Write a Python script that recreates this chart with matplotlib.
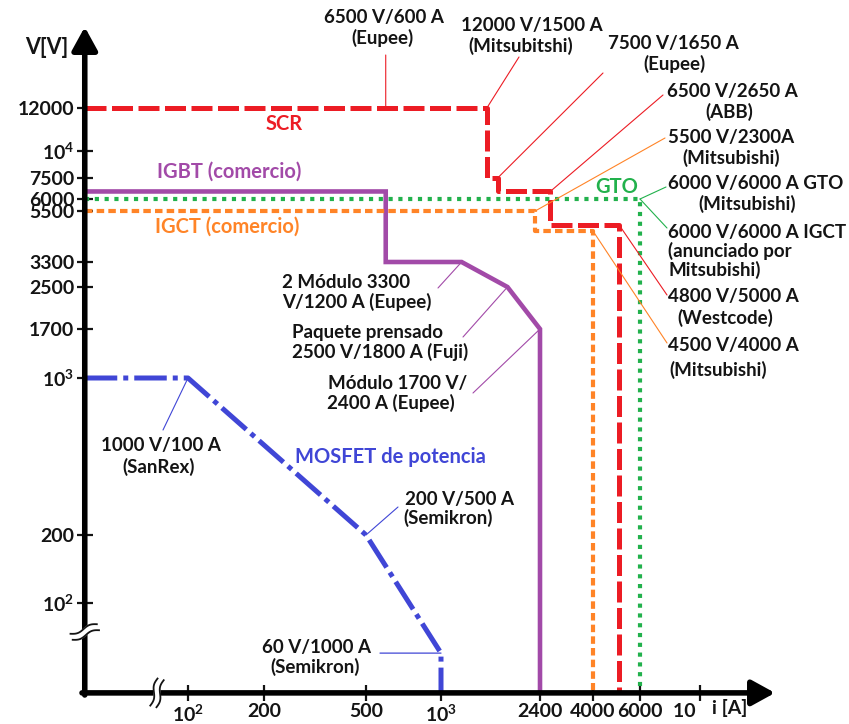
"""
Voltage / current ratings of power semiconductor families (schematic V-I map).

The axes are log-like but not strictly logarithmic (12000 V sits higher than a
true log scale would put it), so both axes use a piecewise-log FuncScale built
from the tick anchors.
"""

import matplotlib

matplotlib.use("Agg")
import matplotlib.pyplot as plt  # noqa: E402
import matplotlib.transforms as mtransforms  # noqa: E402
import numpy as np  # noqa: E402
from matplotlib.ticker import NullLocator  # noqa: E402

W, H = 849, 724

# --- axis ticks ---------------------------------------------------------------
X_TICKS = [100, 200, 500, 1000, 2400, 4000, 6000, 10000]
X_TICK_LABELS = [r"$10^{2}$", "200", "500", r"$10^{3}$", "2400", "4000", "6000", "10 "]
Y_TICKS = [100, 200, 1000, 1700, 2500, 3300, 5500, 6000, 7500, 10000, 12000]
Y_TICK_LABELS = [r"$10^{2}$", "200", r"$10^{3}$", "1700", "2500", "3300",
                 "5500", "6000", "7500", r"$10^{4}$", "12000"]

# axis origin (A, V)
I_MIN = 39
V_MIN = 40

# --- device limit curves (current A, voltage V) --------------------------------
SCR_I = [I_MIN, 1500, 1500, 1650, 1650, 2650, 2650, 5000, 5000]
SCR_V = [12000, 12000, 7500, 7500, 6500, 6500, 4800, 4800, V_MIN]

IGBT_I = [I_MIN, 600, 600, 1200, 1800, 2400, 2400]
IGBT_V = [6500, 6500, 3300, 3300, 2500, 1700, V_MIN]

IGCT_I = [I_MIN, 2300, 2300, 4000, 4000]
IGCT_V = [5500, 5500, 4500, 4500, V_MIN]

GTO_I = [I_MIN, 6000, 6000]
GTO_V = [6000, 6000, V_MIN]

MOSFET_I = [I_MIN, 100, 500, 1000, 1000]
MOSFET_V = [1000, 1000, 200, 60, V_MIN]

RED = "#ec1c24"
PURPLE = "#a24aa8"
ORANGE = "#ff8427"
GREEN = "#22b14c"
BLUE = "#4046d6"
INK = "#141414"

# tick anchors on the picture (px from left / px from bottom)
X_ANCHOR = [188, 264, 366, 441, 540, 593, 640, 700]
Y_ANCHOR = [H - p for p in [603, 535, 378, 329, 287, 262, 211, 199, 178, 151, 108]]


def _lin(x, xp, fp):
    """np.interp with linear extrapolation at both ends."""
    x = np.asarray(x, dtype=float)
    y = np.interp(x, xp, fp)
    y = np.where(x < xp[0], fp[0] + (x - xp[0]) * (fp[1] - fp[0]) / (xp[1] - xp[0]), y)
    y = np.where(x > xp[-1], fp[-1] + (x - xp[-1]) * (fp[-1] - fp[-2]) / (xp[-1] - xp[-2]), y)
    return y


def piecewise_log(values, anchors):
    lv = np.log10(np.asarray(values, dtype=float))
    pos = np.asarray(anchors, dtype=float)

    def forward(v):
        return _lin(np.log10(np.clip(np.asarray(v, dtype=float), 1e-9, None)), lv, pos)

    def inverse(p):
        return 10 ** _lin(p, pos, lv)

    return forward, inverse


def fig_xy(x, y):
    """Picture pixel (from top-left) -> figure fraction."""
    return x / W, 1 - y / H


def break_mark(ax, fig, anchor, angle):
    """Two wavy strokes with a white gap, drawn around a data anchor (px units)."""
    u = np.linspace(-14, 14, 40)
    wave = 1.8 * np.sin(np.pi * u / 14)
    a = np.deg2rad(angle)
    trans = fig.dpi_scale_trans + mtransforms.ScaledTranslation(*anchor, ax.transData)
    curves = []
    for off in (3.2, -3.2):
        v = wave + off
        x = (u * np.cos(a) - v * np.sin(a)) / 100
        y = (u * np.sin(a) + v * np.cos(a)) / 100
        curves.append((x, y))
    px = np.concatenate([curves[0][0], curves[1][0][::-1]])
    py = np.concatenate([curves[0][1], curves[1][1][::-1]])
    ax.fill(px, py, color="white", transform=trans, zorder=11, clip_on=False)
    for x, y in curves:
        ax.plot(x, y, color=INK, lw=1.3, transform=trans, zorder=12, clip_on=False)


def main() -> None:
    plt.rcParams["font.family"] = ["Lato", "DejaVu Sans"]
    plt.rcParams["font.weight"] = "bold"
    plt.rcParams["mathtext.fontset"] = "custom"
    plt.rcParams["mathtext.rm"] = "Lato:bold"
    plt.rcParams["mathtext.bf"] = "Lato:bold"
    plt.rcParams["mathtext.default"] = "bf"

    fig = plt.figure(figsize=(W / 100, H / 100), dpi=100)
    ax = fig.add_axes([0, 0, 1, 1])
    fx, ix = piecewise_log(X_TICKS, X_ANCHOR)
    fy, iy = piecewise_log(Y_TICKS, Y_ANCHOR)
    ax.set_xscale("function", functions=(fx, ix))
    ax.set_yscale("function", functions=(fy, iy))
    ax.set_xlim(float(ix(0.0)), float(ix(W)))
    ax.set_ylim(float(iy(0.0)), float(iy(H)))

    for side in ("top", "right"):
        ax.spines[side].set_visible(False)
    ax.spines["left"].set_position(("data", I_MIN))
    ax.spines["bottom"].set_position(("data", V_MIN))
    ax.spines["left"].set_visible(False)
    ax.spines["bottom"].set_visible(False)

    ax.set_xticks(X_TICKS, X_TICK_LABELS)
    ax.set_yticks(Y_TICKS, Y_TICK_LABELS)
    ax.xaxis.set_minor_locator(NullLocator())
    ax.yaxis.set_minor_locator(NullLocator())
    ax.tick_params(direction="inout", length=11, width=1.6, labelsize=14,
                   pad=2, color=INK, labelcolor=INK)
    for t in ax.get_xticklabels() + ax.get_yticklabels():
        t.set_zorder(12)
    # the last current label sits left of its tick, clear of "i [A]"
    ax.get_xticklabels()[-1].set_horizontalalignment("right")

    # axis arrows
    head = dict(arrowstyle="-|>,head_length=1.0,head_width=0.55", mutation_scale=14,
                color="black", lw=4, shrinkA=0, shrinkB=0)
    ax.annotate("", xy=(775 / W, V_MIN), xycoords=("figure fraction", "data"),
                xytext=(82 / W, V_MIN), textcoords=("figure fraction", "data"),
                arrowprops=head, zorder=10)
    ax.annotate("", xy=(I_MIN, 1 - 27 / H), xycoords=("data", "figure fraction"),
                xytext=(I_MIN, 1 - 695 / H), textcoords=("data", "figure fraction"),
                arrowprops=head, zorder=10)
    break_mark(ax, fig, (I_MIN, float(iy(H - 632))), 20)
    break_mark(ax, fig, (float(ix(157)), V_MIN), 75)

    # limit curves
    ax.plot(IGBT_I, IGBT_V, color=PURPLE, lw=3.3, solid_joinstyle="miter", zorder=2)
    ax.plot(MOSFET_I, MOSFET_V, color=BLUE, lw=3.6, dashes=(6.5, 1.2, 1.0, 1.2), zorder=2)
    ax.plot(SCR_I, SCR_V, color=RED, lw=3.6, dashes=(4.2, 1.1), zorder=3)
    ax.plot(IGCT_I, IGCT_V, color=ORANGE, lw=3.0, dashes=(1.8, 1.0), zorder=4)
    ax.plot(GTO_I, GTO_V, color=GREEN, lw=3.0, dashes=(1.0, 1.35), zorder=5)

    # family names
    fam = dict(fontsize=14.5, va="center", zorder=6)
    ax.text(*fig_xy(284, 124), "SCR", color=RED, ha="center", transform=fig.transFigure, **fam)
    ax.text(*fig_xy(157, 172), "IGBT (comercio)", color=PURPLE, ha="left",
            transform=fig.transFigure, **fam)
    ax.text(*fig_xy(155, 227), "IGCT (comercio)", color=ORANGE, ha="left",
            transform=fig.transFigure, **fam)
    ax.text(*fig_xy(617, 187), "GTO", color=GREEN, ha="center", transform=fig.transFigure, **fam)
    ax.text(*fig_xy(295, 457), "MOSFET de potencia", color=BLUE, ha="left",
            transform=fig.transFigure, **fam)

    # axis titles
    ax.text(*fig_xy(47, 47), "V[V]", fontsize=15.5, color=INK, ha="center", va="center",
            transform=fig.transFigure)
    ax.text(*fig_xy(730, 708), "i [A]", fontsize=14, color=INK, ha="center", va="center",
            transform=fig.transFigure)

    # device annotations: (text, x px, y px, ha)
    notes = [
        ("6500 V/600 A", 384, 17, "center"), ("(Eupee)", 383, 38, "center"),
        ("12000 V/1500 A", 532, 25, "center"), ("(Mitsubitshi)", 521, 46, "center"),
        ("7500 V/1650 A", 673, 44, "center"), ("(Eupee)", 674, 64, "center"),
        ("6500 V/2650 A", 732, 91, "center"), ("(ABB)", 729, 112, "center"),
        ("5500 V/2300A", 731, 137, "center"), ("(Mitsubishi)", 731, 158, "center"),
        ("6000 V/6000 A GTO", 668, 184, "left"), ("(Mitsubishi)", 747, 204, "center"),
        ("6000 V/6000 A IGCT", 668, 232, "left"), ("(anunciado por", 668, 251, "left"),
        ("Mitsubishi)", 668, 270, "left"),
        ("4800 V/5000 A", 668, 297, "left"), ("(Westcode)", 677, 318, "left"),
        ("4500 V/4000 A", 668, 345, "left"), ("(Mitsubishi)", 669, 370, "left"),
        ("2 Módulo 3300", 282, 282, "left"), ("V/1200 A (Eupee)", 282, 302, "left"),
        ("Paquete prensado", 292, 332, "left"), ("2500 V/1800 A (Fuji)", 292, 352, "left"),
        ("Módulo 1700 V/", 328, 383, "left"), ("2400 A (Eupee)", 327, 403, "left"),
        ("1000 V/100 A", 161, 446, "center"), ("(SanRex)", 159, 467, "center"),
        ("200 V/500 A", 405, 499, "left"), ("(Semikron)", 403, 518, "left"),
        ("60 V/1000 A", 316, 647, "center"), ("(Semikron)", 315, 667, "center"),
    ]
    for text, x, y, ha in notes:
        ax.text(*fig_xy(x, y), text, fontsize=13.5, color=INK, ha=ha, va="center",
                transform=fig.transFigure, zorder=6)

    # leader lines: (target I, target V, end x px, end y px, colour)
    leaders = [
        (1500, 12000, 519, 57, RED),
        (1650, 7500, 603, 73, RED),
        (2650, 6500, 663, 95, RED),
        (2300, 5500, 665, 138, ORANGE),
        (6000, 6000, 666, 187, GREEN),
        (6000, 6000, 667, 228, GREEN),
        (5000, 4800, 667, 295, RED),
        (4000, 4500, 667, 343, ORANGE),
        (1200, 3300, 438, 288, PURPLE),
        (1800, 2500, 463, 337, PURPLE),
        (2400, 1700, 473, 393, PURPLE),
        (100, 1000, 163, 430, BLUE),
        (500, 200, 398, 507, BLUE),
    ]
    for i, v, x, y, c in leaders:
        ax.annotate("", xy=(i, v), xytext=fig_xy(x, y), textcoords="figure fraction",
                    arrowprops=dict(arrowstyle="-", color=c, lw=0.8, shrinkA=0, shrinkB=0),
                    zorder=6)
    # vertical / horizontal leaders keep their alignment with the mark
    ax.annotate("", xy=(600, 12000), xytext=(600, 1 - 55 / H),
                textcoords=("data", "figure fraction"),
                arrowprops=dict(arrowstyle="-", color=RED, lw=0.8, shrinkA=0, shrinkB=0))
    ax.annotate("", xy=(1000, 60), xytext=(380 / W, 60),
                textcoords=("figure fraction", "data"),
                arrowprops=dict(arrowstyle="-", color=BLUE, lw=0.9, shrinkA=0, shrinkB=0))

    fig.savefig("out.png", dpi=100, facecolor="white")
    plt.close(fig)


if __name__ == "__main__":
    main()
